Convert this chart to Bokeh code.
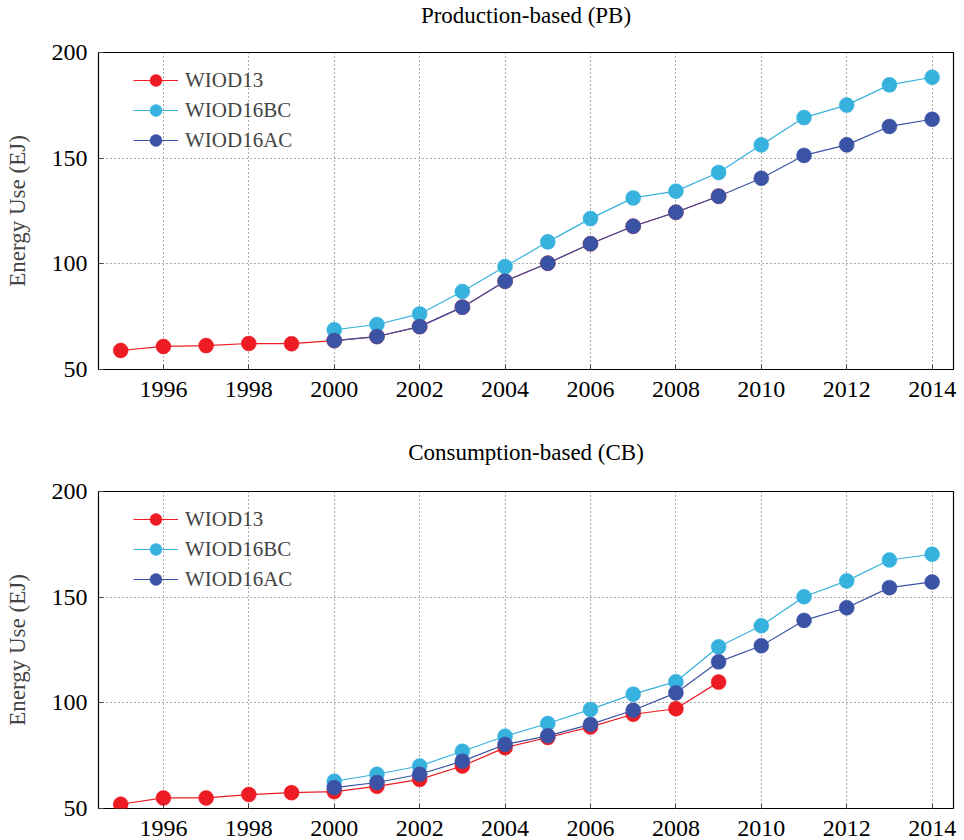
from bokeh.plotting import figure
from bokeh.models import Range1d, Legend, LegendItem
from bokeh.core.properties import value
from bokeh.layouts import column
from bokeh.embed import file_html
from bokeh.resources import INLINE

# ---- data ----
wiod13_years = list(range(1995, 2010))
wiod16_years = list(range(2000, 2015))
x_ticks = list(range(1996, 2015, 2))
y_ticks = [50, 100, 150, 200]

pb_wiod13 = [59.0, 60.9, 61.3, 62.3, 62.2, 63.7, 65.6, 70.3, 79.5, 91.8, 100.3, 109.5, 117.8, 124.4, 132.0]
pb_wiod16bc = [68.8, 71.3, 76.3, 86.9, 98.7, 110.4, 121.4, 131.2, 134.4, 143.2, 156.3, 169.2, 175.1, 184.7, 188.3]
pb_wiod16ac = [63.7, 65.6, 70.3, 79.5, 91.8, 100.3, 109.5, 117.8, 124.4, 132.0, 140.5, 151.3, 156.3, 165.0, 168.4]

cb_wiod13 = [52.0, 55.0, 55.0, 56.6, 57.5, 58.0, 60.5, 63.8, 70.1, 78.8, 83.6, 88.6, 94.6, 97.2, 109.8]
cb_wiod16bc = [62.9, 66.2, 70.1, 77.1, 84.2, 90.2, 96.9, 104.1, 110.0, 126.5, 136.5, 150.2, 157.7, 167.6, 170.3]
cb_wiod16ac = [59.9, 62.3, 66.2, 72.4, 80.3, 84.4, 89.8, 96.5, 104.7, 119.4, 127.0, 139.0, 145.0, 154.5, 157.2]

titles = ["Production-based (PB)", "Consumption-based (CB)"]
series_names = ["WIOD13", "WIOD16BC", "WIOD16AC"]
colors = ["#ED1C24", "#37B2DE", "#3A53A4"]

FONT = "Liberation Serif"


def make_title(text, height):
    t = figure(width=964, height=height, output_backend="svg", toolbar_location=None,
               x_range=Range1d(0, 1), y_range=Range1d(0, 1),
               x_axis_type=None, y_axis_type=None,
               min_border_left=98, min_border_right=11,
               min_border_top=0, min_border_bottom=0)
    t.outline_line_color = None
    t.xgrid.visible = False
    t.ygrid.visible = False
    t.text(x=[0.5], y=[0.5], text=[text], text_align="center", text_baseline="middle",
           text_font=value(FONT), text_font_size="23px", text_color="black")
    return t


def make_fig(w13, bc, ac, height, b_top, b_bottom):
    p = figure(width=964, height=height, output_backend="svg", toolbar_location=None,
               x_range=Range1d(1994.48, 2014.5), y_range=Range1d(50, 200),
               min_border_left=98, min_border_right=11,
               min_border_top=b_top, min_border_bottom=b_bottom)

    p.outline_line_color = "black"
    p.outline_line_width = 1.2
    p.outline_line_alpha = 1

    p.xaxis.ticker = x_ticks
    p.yaxis.ticker = y_ticks
    for ax in (p.xaxis[0], p.yaxis[0]):
        ax.axis_line_color = None
        ax.major_tick_in = 5
        ax.major_tick_out = 0
        ax.minor_tick_line_color = None
        ax.major_tick_line_color = "#444444"
        ax.major_label_text_font = FONT
        ax.major_label_text_font_size = "24px"
        ax.major_label_text_color = "black"
    p.xaxis.major_label_standoff = 12
    p.yaxis.major_label_standoff = 11
    p.yaxis.axis_label = "Energy Use (EJ)"
    p.yaxis.axis_label_text_font = FONT
    p.yaxis.axis_label_text_font_style = "normal"
    p.yaxis.axis_label_text_font_size = "23px"
    p.yaxis.axis_label_standoff = 19

    for g in (p.xgrid[0], p.ygrid[0]):
        g.grid_line_color = "#555555"
        g.grid_line_dash = "1 3"
        g.grid_line_width = 1

    items = []
    for xs, ys, name, c in ((wiod13_years, w13, series_names[0], colors[0]),
                            (wiod16_years, bc, series_names[1], colors[1]),
                            (wiod16_years, ac, series_names[2], colors[2])):
        l = p.line(xs, ys, line_color=c, line_width=1.2)
        s = p.scatter(xs, ys, size=15, fill_color=c, line_color=c, line_width=0.5)
        items.append(LegendItem(label=name, renderers=[l, s]))

    leg = Legend(items=items, location=(35, 214), padding=0, margin=0,
                 border_line_alpha=0, background_fill_alpha=0,
                 glyph_width=45, glyph_height=30, label_height=20,
                 label_standoff=7, spacing=0,
                 label_text_font=FONT, label_text_font_size="21px")
    p.add_layout(leg, "center")
    return p


t1 = make_title(titles[0], 30)
p1 = make_fig(pb_wiod13, pb_wiod16bc, pb_wiod16ac, 402, 22, 63)
t2 = make_title(titles[1], 40)
p2 = make_fig(cb_wiod13, cb_wiod16bc, cb_wiod16ac, 368, 19, 32)

layout = column(t1, p1, t2, p2, spacing=0)
open("out.html", "w").write(file_html(layout, INLINE))
